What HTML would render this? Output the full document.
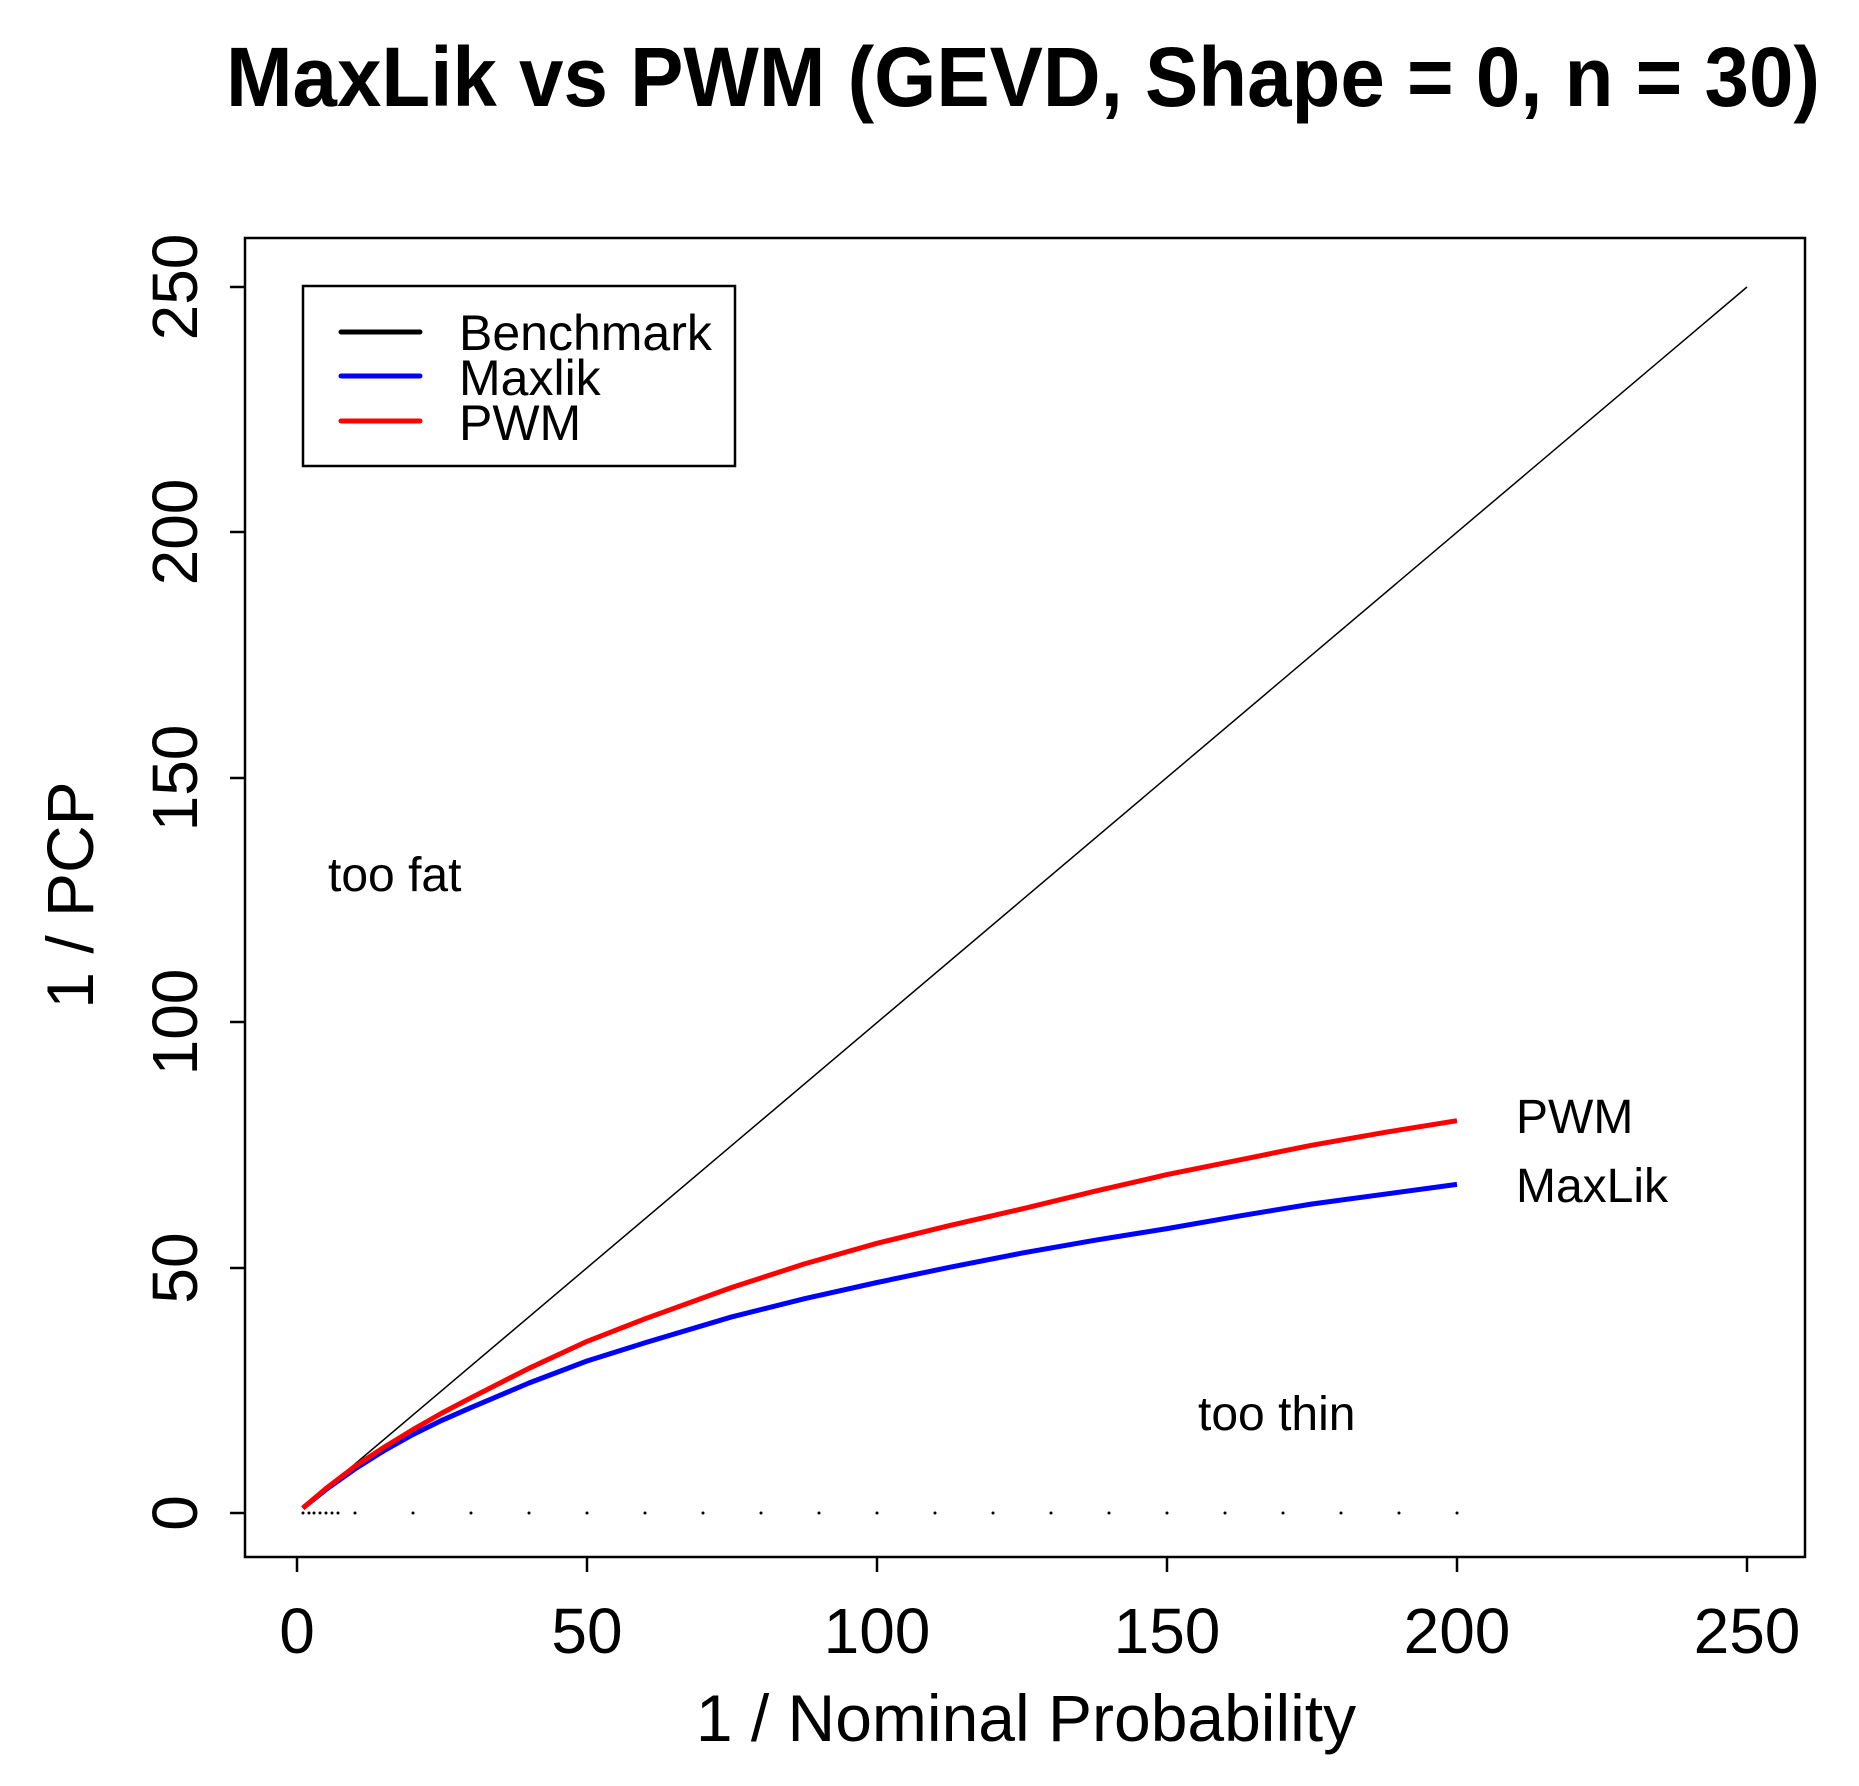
<!DOCTYPE html>
<html><head><meta charset="utf-8"><style>body{margin:0;background:#fff}svg{display:block}</style></head>
<body>
<svg width="1859" height="1786" xmlns="http://www.w3.org/2000/svg" font-family="Liberation Sans, Arial, sans-serif">
<rect width="1859" height="1786" fill="#fff"/>
<text x="226" y="106" font-size="84" font-weight="bold" textLength="1594" lengthAdjust="spacingAndGlyphs">MaxLik vs PWM (GEVD, Shape = 0, n = 30)</text>
<rect x="245" y="238" width="1560" height="1319" fill="none" stroke="#000" stroke-width="2.5"/>
<g stroke="#000" stroke-width="2.5">
<line x1="297" y1="1557" x2="297" y2="1572"/><line x1="587" y1="1557" x2="587" y2="1572"/><line x1="877" y1="1557" x2="877" y2="1572"/><line x1="1167" y1="1557" x2="1167" y2="1572"/><line x1="1457" y1="1557" x2="1457" y2="1572"/><line x1="1747" y1="1557" x2="1747" y2="1572"/>
<line x1="230" y1="1513" x2="245" y2="1513"/><line x1="230" y1="1268" x2="245" y2="1268"/><line x1="230" y1="1022" x2="245" y2="1022"/><line x1="230" y1="778" x2="245" y2="778"/><line x1="230" y1="532" x2="245" y2="532"/><line x1="230" y1="287" x2="245" y2="287"/>
</g>
<g font-size="64" text-anchor="middle">
<text x="297" y="1653">0</text><text x="587" y="1653">50</text><text x="877" y="1653">100</text><text x="1167" y="1653">150</text><text x="1457" y="1653">200</text><text x="1747" y="1653">250</text>
<text transform="translate(197,1513) rotate(-90)">0</text>
<text transform="translate(197,1268) rotate(-90)">50</text>
<text transform="translate(197,1022) rotate(-90)">100</text>
<text transform="translate(197,778) rotate(-90)">150</text>
<text transform="translate(197,532) rotate(-90)">200</text>
<text transform="translate(197,287) rotate(-90)">250</text>
<text x="1026" y="1741" font-size="66">1 / Nominal Probability</text>
<text transform="translate(93,895) rotate(-90)" font-size="66">1 / PCP</text>
</g>
<line x1="302.8" y1="1508.1" x2="1747" y2="287" stroke="#000" stroke-width="1.5"/>
<polyline fill="none" stroke="#0000ff" stroke-width="5" stroke-linejoin="round" points="302.8,1508.1 326,1489.5 355,1468.9 384,1450.7 413,1434.5 442,1420.3 471,1407.6 529,1383 587,1361 645,1342.8 732,1316.8 804.5,1298.7 877,1282.5 949.5,1267.3 1022,1253.1 1094.5,1240.3 1167,1228.6 1239.5,1215.9 1312,1204 1384.5,1194.2 1457,1184.4"/>
<polyline fill="none" stroke="#ff0000" stroke-width="5" stroke-linejoin="round" points="302.8,1508.1 326,1488.5 355,1466.4 384,1447.3 413,1429.6 442,1413 471,1397.8 529,1368.3 587,1341.4 645,1318.8 732,1287.4 804.5,1263.9 877,1243.3 949.5,1225.6 1022,1208.9 1094.5,1191.3 1167,1174.6 1239.5,1159.9 1312,1145.2 1384.5,1132.4 1457,1120.7"/>
<g fill="#000">
<circle cx="303" cy="1513" r="1.5"/><circle cx="309" cy="1513" r="1.5"/><circle cx="314" cy="1513" r="1.5"/><circle cx="320" cy="1513" r="1.5"/><circle cx="326" cy="1513" r="1.5"/><circle cx="332" cy="1513" r="1.5"/><circle cx="338" cy="1513" r="1.5"/><circle cx="355" cy="1513" r="1.5"/>
<circle cx="413" cy="1513" r="1.5"/><circle cx="471" cy="1513" r="1.5"/><circle cx="529" cy="1513" r="1.5"/><circle cx="587" cy="1513" r="1.5"/><circle cx="645" cy="1513" r="1.5"/><circle cx="703" cy="1513" r="1.5"/><circle cx="761" cy="1513" r="1.5"/><circle cx="819" cy="1513" r="1.5"/><circle cx="877" cy="1513" r="1.5"/><circle cx="935" cy="1513" r="1.5"/><circle cx="993" cy="1513" r="1.5"/><circle cx="1051" cy="1513" r="1.5"/><circle cx="1109" cy="1513" r="1.5"/><circle cx="1167" cy="1513" r="1.5"/><circle cx="1225" cy="1513" r="1.5"/><circle cx="1283" cy="1513" r="1.5"/><circle cx="1341" cy="1513" r="1.5"/><circle cx="1399" cy="1513" r="1.5"/><circle cx="1457" cy="1513" r="1.5"/>
</g>
<g font-size="48">
<text x="328" y="891">too fat</text>
<text x="1198" y="1430">too thin</text>
<text x="1516" y="1133">PWM</text>
<text x="1516" y="1202">MaxLik</text>
</g>
<rect x="303" y="286" width="432" height="180" fill="#fff" stroke="#000" stroke-width="2.5"/>
<line x1="341" y1="332" x2="420" y2="332" stroke="#000" stroke-width="5" stroke-linecap="round"/>
<line x1="341" y1="376" x2="420" y2="376" stroke="#0000ff" stroke-width="5" stroke-linecap="round"/>
<line x1="341" y1="421" x2="420" y2="421" stroke="#ff0000" stroke-width="5" stroke-linecap="round"/>
<g font-size="50">
<text x="459" y="350">Benchmark</text>
<text x="459" y="395">Maxlik</text>
<text x="459" y="440">PWM</text>
</g>
</svg>
</body></html>
